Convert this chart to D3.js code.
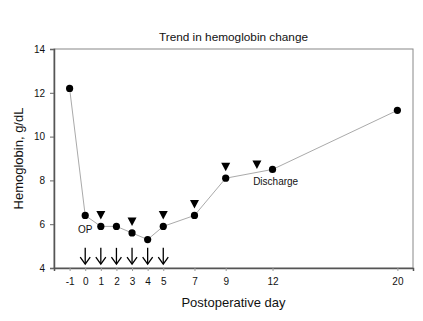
<!DOCTYPE html>
<html><head><meta charset="utf-8">
<script src="https://cdn.jsdelivr.net/npm/d3@7"></script>
<style>body{margin:0;background:#fff;}svg{display:block;font-family:"Liberation Sans",Arial,sans-serif;}</style>
</head><body>
<svg id="c" width="423" height="321"></svg>
<script>
const days = [-1, 0, 1, 2, 3, 4, 5, 7, 9, 12, 20];
const hemoglobin = [12.2, 6.4, 5.9, 5.9, 5.6, 5.3, 5.9, 6.4, 8.1, 8.5, 11.2];
const transfusionDays = [1, 3, 5, 7, 9, 11];
const transfusionLevels = [6.4, 6.1, 6.4, 6.9, 8.6, 8.7];
const arrowDays = [0, 1, 2, 3, 4, 5];
const xTicks = [-1, 0, 1, 2, 3, 4, 5, 7, 9, 12, 20];
const yTicks = [4, 6, 8, 10, 12, 14];
const annotations = [{t: "OP", d: 0, v: 5.6}, {t: "Discharge", d: 12.2, v: 7.8}];

const svg = d3.select("#c");
const L = 54, R = 413, T = 49, B = 268;
const x = d3.scaleLinear().domain([-2, 21]).range([L, R]);
const y = d3.scaleLinear().domain([4, 14]).range([B, T]);

// frame
svg.append("rect").attr("x", L).attr("y", T).attr("width", R - L).attr("height", B - T)
  .attr("fill", "none").attr("stroke", "#888").attr("stroke-width", 1);

const yAxis = svg.append("g").attr("transform", `translate(${L},0)`)
  .call(d3.axisLeft(y).tickValues(yTicks).tickSize(4).tickPadding(5).tickFormat(d => String(d)));
yAxis.select(".domain").attr("stroke", "#555").attr("stroke-width", 1.5);
yAxis.selectAll(".tick line").attr("stroke", "#666");
yAxis.selectAll("text").attr("font-size", 10).attr("fill", "#111").attr("font-family", "Liberation Sans, Arial, sans-serif");

const xAxis = svg.append("g").attr("transform", `translate(0,${B})`)
  .call(d3.axisBottom(x).tickValues(xTicks).tickSize(3).tickPadding(7).tickFormat(d => String(d)));
xAxis.select(".domain").attr("stroke", "#555").attr("stroke-width", 1.5);
xAxis.selectAll(".tick line").attr("stroke", "#999");
xAxis.selectAll("text").attr("font-size", 10).attr("fill", "#111").attr("font-family", "Liberation Sans, Arial, sans-serif");

const pts = days.map((d, i) => [d, hemoglobin[i]]);
svg.append("path").datum(pts)
  .attr("d", d3.line().x(d => x(d[0])).y(d => y(d[1])))
  .attr("fill", "none").attr("stroke", "#aaa").attr("stroke-width", 1);

svg.selectAll("circle.pt").data(pts).join("circle")
  .attr("cx", d => x(d[0])).attr("cy", d => y(d[1])).attr("r", 3.6).attr("fill", "#000");

// triangles
const tri = transfusionDays.map((d, i) => [d, transfusionLevels[i]]);
svg.selectAll("path.tri").data(tri).join("path")
  .attr("d", d => { const cx = x(d[0]), cy = y(d[1]); return `M${cx-4.5},${cy-4.5}L${cx+4.5},${cy-4.5}L${cx},${cy+4}Z`; })
  .attr("fill", "#000");

// arrows
const g = svg.append("g").attr("stroke", "#000").attr("stroke-width", 1.3).attr("fill", "none");
arrowDays.forEach(d => {
  const cx = x(d), y0 = y(4.92), y1 = y(4.18);
  g.append("line").attr("x1", cx).attr("x2", cx).attr("y1", y0).attr("y2", y1);
  g.append("path").attr("d", `M${cx-5},${y1-7}L${cx},${y1}L${cx+5},${y1-7}`);
});

annotations.forEach(a => {
  svg.append("text").attr("x", x(a.d)).attr("y", y(a.v)).attr("text-anchor", "middle")
    .attr("font-size", 10).attr("fill", "#111").text(a.t);
});

svg.append("text").attr("x", (L + R) / 2).attr("y", 41).attr("text-anchor", "middle")
  .attr("font-size", 11.8).attr("fill", "#111").text("Trend in hemoglobin change");
svg.append("text").attr("x", (L + R) / 2).attr("y", 307).attr("text-anchor", "middle")
  .attr("font-size", 13).attr("fill", "#111").text("Postoperative day");
svg.append("text").attr("transform", `translate(23,${(T + B) / 2}) rotate(-90)`).attr("text-anchor", "middle")
  .attr("font-size", 13).attr("fill", "#111").text("Hemoglobin, g/dL");
</script>
</body></html>
